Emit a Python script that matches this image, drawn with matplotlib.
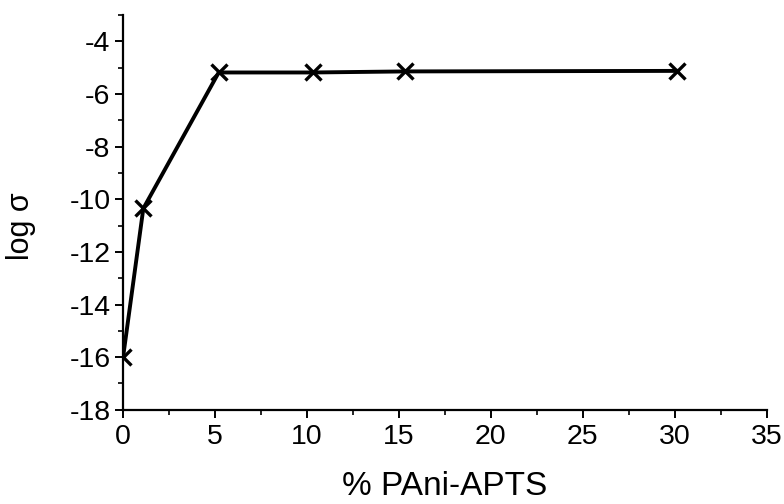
import matplotlib
matplotlib.use('Agg')
import matplotlib.pyplot as plt
from matplotlib.ticker import MultipleLocator

plt.rcParams['font.family'] = ['Liberation Sans', 'DejaVu Sans']
plt.rcParams['axes.unicode_minus'] = False

# data
pani_apts = [0, 1.1, 5.2, 10.35, 15.35, 30.1]
log_sigma = [-16.0, -10.35, -5.18, -5.18, -5.14, -5.12]

fig = plt.figure(figsize=(7.84, 5.04), dpi=100)
ax = fig.add_axes([0.157, 0.187, 0.821, 0.783])

ax.plot(pani_apts, log_sigma, color='black', linewidth=2.8,
        marker='x', markersize=11, markeredgewidth=2.4)

ax.set_xlim(0, 35)
ax.set_ylim(-18, -3)
ax.xaxis.set_major_locator(MultipleLocator(5))
ax.xaxis.set_minor_locator(MultipleLocator(2.5))
ax.yaxis.set_minor_locator(MultipleLocator(1))
ax.set_yticks(range(-18, -3, 2))

ax.spines['top'].set_visible(False)
ax.spines['right'].set_visible(False)
ax.spines['left'].set_linewidth(1.6)
ax.spines['bottom'].set_linewidth(1.6)
for a in ('x', 'y'):
    ax.tick_params(axis=a, which='major', direction='out', length=6, width=1.4,
                   labelsize=20.5, colors='black')
    ax.tick_params(axis=a, which='minor', direction='out', length=3.5, width=1.2)
ax.tick_params(axis='x', pad=4)
ax.tick_params(axis='y', pad=3)

ax.set_xlabel('% PAni-APTS', fontsize=24)
ax.xaxis.set_label_coords(0.5, -0.155)
ax.set_ylabel('log σ', fontsize=22)
ax.yaxis.set_label_coords(-0.135, 0.465)

fig.savefig('out.png', dpi=100)
